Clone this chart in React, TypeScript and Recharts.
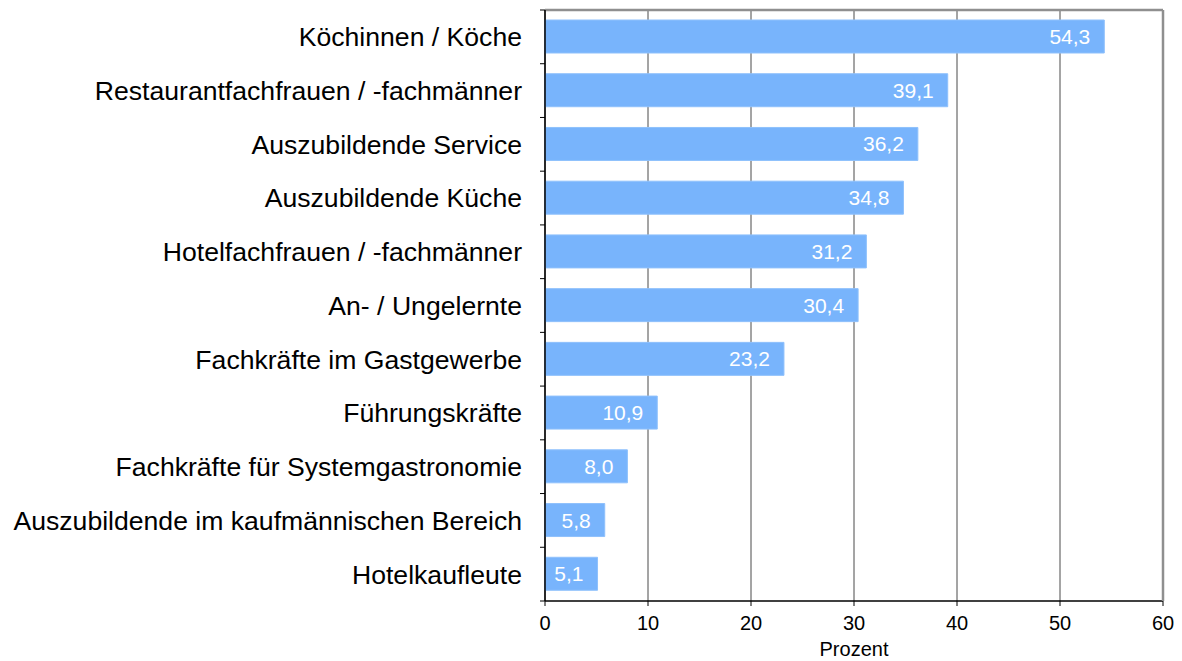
import React from 'react';
import { BarChart, Bar, XAxis, YAxis, CartesianGrid, LabelList } from 'recharts';

const categories: string[] = [
  'Köchinnen / Köche',
  'Restaurantfachfrauen / -fachmänner',
  'Auszubildende Service',
  'Auszubildende Küche',
  'Hotelfachfrauen / -fachmänner',
  'An- / Ungelernte',
  'Fachkräfte im Gastgewerbe',
  'Führungskräfte',
  'Fachkräfte für Systemgastronomie',
  'Auszubildende im kaufmännischen Bereich',
  'Hotelkaufleute',
];

const values: number[] = [54.3, 39.1, 36.2, 34.8, 31.2, 30.4, 23.2, 10.9, 8.0, 5.8, 5.1];

const xTicks: number[] = [0, 10, 20, 30, 40, 50, 60];

const axisTitle = 'Prozent';

const data = categories.map((name, i) => ({ name, value: values[i] }));

const W = 1174;
const H = 653;
const LEFT_W = 537;
const TOP = 2;
const BOTTOM_H = 60;
const PLOT_H = H - TOP - BOTTOM_H;
const HALF = PLOT_H / categories.length / 2;
const FONT = '"Liberation Sans", Arial, Helvetica, sans-serif';

const fmt = (v: any) => Number(v).toFixed(1).replace('.', ',');

const CatTick = (props: any) => {
  const { y, payload, index } = props;
  const last = index === categories.length - 1;
  return (
    <g>
      <text
        x={LEFT_W - 23}
        y={y}
        dy="0.355em"
        textAnchor="end"
        fontSize={26.6}
        fontFamily={FONT}
        fill="#000"
      >
        {payload.value}
      </text>
      <line x1={LEFT_W - 5} x2={LEFT_W} y1={y - HALF} y2={y - HALF} stroke="#000" strokeWidth={1} />
      {last && (
        <line x1={LEFT_W - 5} x2={LEFT_W} y1={y + HALF} y2={y + HALF} stroke="#000" strokeWidth={1} />
      )}
    </g>
  );
};

export default function App() {
  return (
    <div style={{ width: W, height: H, fontFamily: FONT }}>
      <BarChart
        width={W}
        height={H}
        data={data}
        layout="vertical"
        margin={{ top: TOP - 1, right: 18, bottom: 0, left: 0 }}
        barSize={33}
      >
        <CartesianGrid horizontal={false} vertical={true} stroke="#4a4a4a" strokeWidth={1} />
        <XAxis
          type="number"
          domain={[0, 60]}
          ticks={xTicks}
          interval={0}
          height={BOTTOM_H}
          tickSize={5}
          tickMargin={10}
          stroke="#000"
          tick={{ fontSize: 20, fill: '#000', fontFamily: FONT }}
          axisLine={{ stroke: '#000', strokeWidth: 1.5 }}
          tickLine={{ stroke: '#000' }}
          label={{ value: axisTitle, position: 'insideBottom', offset: 5, fontSize: 20, fill: '#000', fontFamily: FONT }}
        />
        <XAxis
          xAxisId="top"
          orientation="top"
          type="number"
          domain={[0, 60]}
          height={1}
          tick={false}
          tickLine={false}
          axisLine={{ stroke: '#8f8f8f', strokeWidth: 2.5 }}
        />
        <YAxis
          type="category"
          dataKey="name"
          width={LEFT_W}
          interval={0}
          tickLine={false}
          tick={<CatTick />}
          axisLine={{ stroke: '#000', strokeWidth: 1.5 }}
        />
        <YAxis
          yAxisId="right"
          orientation="right"
          type="category"
          dataKey="name"
          width={1}
          tick={false}
          tickLine={false}
          axisLine={{ stroke: '#8f8f8f', strokeWidth: 2.5 }}
        />
        <Bar dataKey="value" fill="#78b4fc" stroke="#8fc1fc" strokeWidth={1} isAnimationActive={false}>
          <LabelList
            dataKey="value"
            position="insideRight"
            offset={14}
            formatter={fmt}
            fill="#fff"
            fontSize={21}
            fontFamily={FONT}
          />
        </Bar>
      </BarChart>
    </div>
  );
}
